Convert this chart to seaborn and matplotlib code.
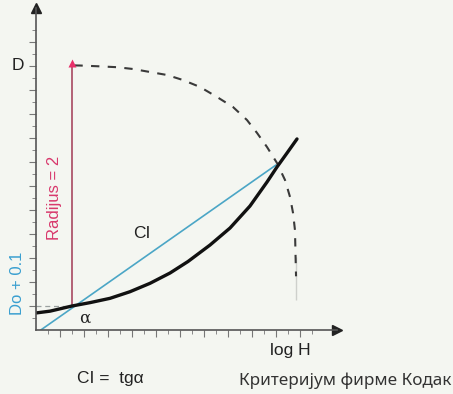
import numpy as np
import pandas as pd
import matplotlib
matplotlib.use("Agg")
import matplotlib.pyplot as plt
from matplotlib.ticker import FixedLocator
import seaborn as sns

# ---- data (x = log H, y = D) ----
curve_x = [0.0, 0.117, 0.30, 0.45, 0.617, 0.783, 0.95, 1.117, 1.267, 1.45, 1.617,
           1.783, 1.925, 2.008, 2.092, 2.175]
curve_y = [0.142, 0.157, 0.20, 0.228, 0.264, 0.319, 0.389, 0.475, 0.571, 0.708, 0.85,
           1.033, 1.233, 1.358, 1.475, 1.592]

arc_x = [0.32, 0.367, 0.533, 0.675, 0.808, 0.95, 1.092, 1.225, 1.367, 1.508, 1.642,
         1.758, 1.842, 1.925, 2.008, 2.075, 2.117, 2.142, 2.158, 2.167, 2.167, 2.167, 2.167]
arc_y = [2.205, 2.204, 2.197, 2.19, 2.175, 2.15, 2.125, 2.083, 2.025, 1.942, 1.858,
         1.75, 1.642, 1.525, 1.392, 1.25, 1.108, 0.975, 0.833, 0.692, 0.525, 0.358, 0.215]

blue_x = [0.04, 2.0]
blue_y = [0.0, 1.375]

d0_level = 0.20       # Do + 0.1
alpha_x = 0.30
d_top = 2.20          # Do + 0.1 + 2

y_major = [0.2, 0.4, 0.6, 0.8, 1.0, 1.2, 1.4, 1.6, 1.8, 2.0, 2.2, 2.4]
x_major = [0.2, 0.4, 0.6, 0.8, 1.0, 1.2, 1.4, 1.6, 1.8, 2.0, 2.2]

sns.set_theme(style="white")
plt.rcParams['font.family'] = ['Liberation Sans', 'DejaVu Sans']

bg = '#f4f6f1'
fig = plt.figure(figsize=(4.53, 3.94), dpi=100, facecolor=bg)
ax = fig.add_axes([36/453, 64/394, (337-36)/453, (330-8)/394])
ax.set_facecolor(bg)
ax.set_xlim(0, (337-36)/120)
ax.set_ylim(0, (330-8)/120)

curve = pd.DataFrame({'x': curve_x, 'y': curve_y})
arc = pd.DataFrame({'x': arc_x, 'y': arc_y})
blue = pd.DataFrame({'x': blue_x, 'y': blue_y})

# dashed reference level Do+0.1
ax.plot([0, alpha_x], [d0_level, d0_level], color='#9aa0a0', lw=0.9, ls=(0, (4, 3)))

# dashed arc (radius = 2)
sns.lineplot(data=arc, x='x', y='y', sort=False, ax=ax, color='#3a3a3a', lw=1.5,
             linestyle=(0, (4, 4)))

# red radius arrow
ax.plot([alpha_x, alpha_x], [d0_level, d_top], color='#a84862', lw=1.2)
ax.plot([alpha_x], [d_top + 0.025], marker='^', ms=5.5, color='#e8306a', mec='none')

# blue tangent line
sns.lineplot(data=blue, x='x', y='y', ax=ax, color='#4ba6c6', lw=1.2)

# characteristic curve
sns.lineplot(data=curve, x='x', y='y', ax=ax, color='#111111', lw=2.4)

# axes styling
for s in ['top', 'right']:
    ax.spines[s].set_visible(False)
for s in ['left', 'bottom']:
    ax.spines[s].set_color('#555555')
    ax.spines[s].set_linewidth(1.2)
ax.set_xlabel('')
ax.set_ylabel('')
ax.xaxis.set_major_locator(FixedLocator(x_major))
ax.xaxis.set_minor_locator(FixedLocator([v - 0.1 for v in x_major] + [2.3]))
ax.yaxis.set_major_locator(FixedLocator(y_major))
ax.yaxis.set_minor_locator(FixedLocator([v - 0.1 for v in y_major] + [2.5]))
ax.tick_params(axis='both', which='major', direction='out', length=5, width=0.8,
               color='#777777', labelbottom=False, labelleft=False,
               bottom=True, left=True)
ax.tick_params(axis='both', which='minor', direction='out', length=3, width=0.7,
               color='#888888', bottom=True, left=True)

# axis arrow heads
ax.plot(1, 0, marker='>', ms=7, color='#222222', transform=ax.transAxes, clip_on=False)
ax.plot(0, 1, marker='^', ms=7, color='#222222', transform=ax.transAxes, clip_on=False)

# texts
fig.text(18/453, 1 - 65/394, 'D', fontsize=12.5, ha='center', va='center', color='#222222')
fig.text(55/453, 1 - 198/394, 'Radijus = 2', fontsize=12, rotation=90,
         ha='center', va='center', color='#d8386c')
fig.text(18/453, 1 - 283/394, 'Do + 0.1', fontsize=12, rotation=90,
         ha='center', va='center', color='#3a9fd0')
fig.text(142/453, 1 - 234/394, 'CI', fontsize=12.5, ha='center', va='center', color='#222222')
fig.text(85/453, 1 - 318/394, 'α', fontsize=12, ha='center', va='center', color='#222222',
         family=['DejaVu Serif'])
fig.text(290/453, 1 - 350/394, 'log H', fontsize=12.5, ha='center', va='center', color='#222222')
fig.text(110/453, 1 - 379/394, 'CI =  tgα', fontsize=12.5, ha='center', va='center',
         color='#222222')
fig.text(345/453, 1 - 381/394, 'Критеријум фирме Кодак', fontsize=12.3, ha='center',
         va='center', color='#333333', family=['Noto Sans', 'DejaVu Sans'])

fig.savefig('out.png', dpi=100, facecolor=bg)
